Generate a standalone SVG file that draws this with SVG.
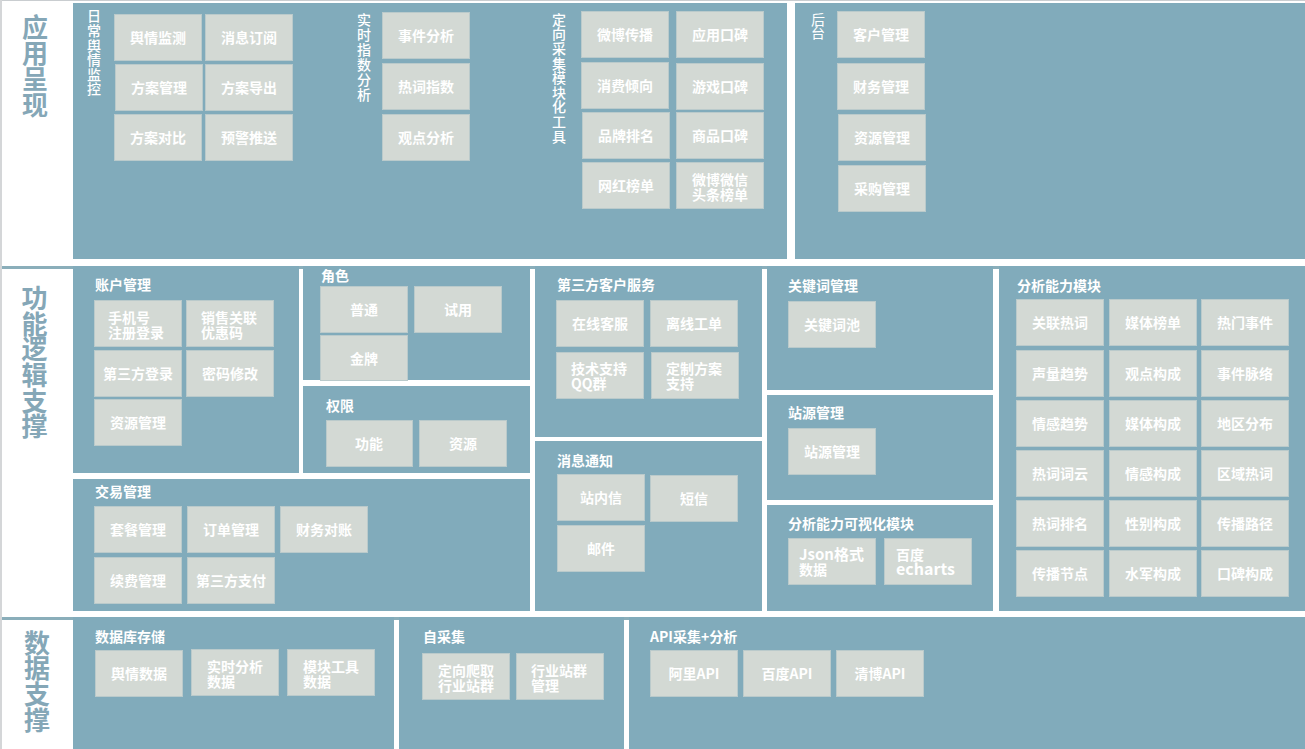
<svg xmlns="http://www.w3.org/2000/svg" width="1305" height="749" viewBox="0 0 1305 749">
<style>
.bg{fill:#ffffff}
.panel{fill:#81abbb}
.sep{fill:#8aaeba}
.box rect{fill:#d3d9d4;stroke:#bacacb;stroke-width:1}
text{font-family:"Noto Sans CJK SC","Noto Sans",sans-serif}
.bt{font-size:14px;fill:#ffffff;text-anchor:middle;font-weight:700}
.bl{font-size:14px;fill:#ffffff;text-anchor:start;font-weight:700}
.pt{font-size:14px;fill:#ffffff;font-weight:700}
.vt{font-size:14px;fill:#ffffff;writing-mode:vertical-rl;text-orientation:upright;font-weight:500}
.side{font-size:26px;fill:#85a7b7;writing-mode:vertical-rl;text-orientation:upright;font-weight:700}
</style>
<rect class="bg" x="0" y="0" width="1305" height="749"/>
<rect x="0" y="0" width="1305" height="1" fill="#c9cdd0"/>
<rect x="0" y="0" width="2" height="749" fill="#d4d6d8"/>

<!-- Row 1: 应用呈现 -->
<g id="layer-app">
<text class="side" x="35" y="14">应用呈现</text>
<rect class="panel" x="73" y="3" width="714" height="256"/>
<rect class="panel" x="795" y="3" width="510" height="256"/>
</g>

<g id="daily-monitor">
<text class="vt" x="94" y="9" style="letter-spacing:0.6px">日常舆情监控</text>
<g class="box" id="n-yqjc"><rect x="114.5" y="14.5" width="87" height="46"/><text class="bt" x="158" y="43">舆情监测</text></g>
<g class="box" id="n-xxdy"><rect x="205.5" y="14.5" width="87" height="46"/><text class="bt" x="249" y="43">消息订阅</text></g>
<g class="box" id="n-fagl"><rect x="115.5" y="64.5" width="87" height="46"/><text class="bt" x="159" y="93">方案管理</text></g>
<g class="box" id="n-fadc"><rect x="205.5" y="64.5" width="87" height="46"/><text class="bt" x="249" y="93">方案导出</text></g>
<g class="box" id="n-fadb"><rect x="114.5" y="114.5" width="87" height="46"/><text class="bt" x="158" y="143">方案对比</text></g>
<g class="box" id="n-yjts"><rect x="205.5" y="114.5" width="87" height="46"/><text class="bt" x="249" y="143">预警推送</text></g>
</g>

<g id="realtime-index">
<text class="vt" x="364" y="12.5" style="letter-spacing:1px">实时指数分析</text>
<g class="box" id="n-sjfx"><rect x="382.5" y="12.5" width="87" height="46"/><text class="bt" x="426" y="41">事件分析</text></g>
<g class="box" id="n-rczs"><rect x="382.5" y="63.5" width="87" height="46"/><text class="bt" x="426" y="92">热词指数</text></g>
<g class="box" id="n-gdfx"><rect x="382.5" y="114.5" width="87" height="46"/><text class="bt" x="426" y="143">观点分析</text></g>
</g>

<g id="directed-collect">
<text class="vt" x="559" y="12.5" style="letter-spacing:0.6px">定向采集模块化工具</text>
<g class="box" id="n-wbcb"><rect x="581.5" y="11.5" width="87" height="46"/><text class="bt" x="625" y="40">微博传播</text></g>
<g class="box" id="n-yykb"><rect x="676.5" y="11.5" width="87" height="46"/><text class="bt" x="720" y="40">应用口碑</text></g>
<g class="box" id="n-xfqx"><rect x="581.5" y="62.5" width="87" height="46"/><text class="bt" x="625" y="91">消费倾向</text></g>
<g class="box" id="n-yxkb"><rect x="676.5" y="63.5" width="87" height="46"/><text class="bt" x="720" y="92">游戏口碑</text></g>
<g class="box" id="n-ppmc"><rect x="582.5" y="112.5" width="87" height="46"/><text class="bt" x="626" y="141">品牌排名</text></g>
<g class="box" id="n-spkb"><rect x="676.5" y="112.5" width="87" height="46"/><text class="bt" x="720" y="141">商品口碑</text></g>
<g class="box" id="n-whbd"><rect x="582.5" y="162.5" width="87" height="46"/><text class="bt" x="626" y="191">网红榜单</text></g>
<g class="box" id="n-wbwx"><rect x="676.5" y="162.5" width="87" height="46"/><text class="bt"><tspan x="720" y="185">微博微信</tspan><tspan x="720" y="200">头条榜单</tspan></text></g>
</g>

<g id="backend">
<text class="vt" x="818" y="12.5" style="letter-spacing:-0.5px;font-weight:400">后台</text>
<g class="box" id="n-khgl"><rect x="837.5" y="11.5" width="87" height="46"/><text class="bt" x="881" y="40">客户管理</text></g>
<g class="box" id="n-cwgl"><rect x="837.5" y="63.5" width="87" height="46"/><text class="bt" x="881" y="92">财务管理</text></g>
<g class="box" id="n-zygl1"><rect x="838.5" y="114.5" width="87" height="46"/><text class="bt" x="882" y="143">资源管理</text></g>
<g class="box" id="n-cggl"><rect x="838.5" y="165.5" width="87" height="46"/><text class="bt" x="882" y="194">采购管理</text></g>
</g>

<!-- Row 2: 功能逻辑支撑 -->
<rect class="sep" x="2" y="266" width="1303" height="3"/>
<g id="layer-func">
<text class="side" x="34.5" y="285" style="letter-spacing:-0.3px">功能逻辑支撑</text>
</g>

<g id="account">
<rect class="panel" x="73" y="266" width="226" height="207"/>
<text class="pt" x="95" y="290">账户管理</text>
<g class="box" id="n-sjh"><rect x="94.5" y="300.5" width="87" height="46"/><text class="bl"><tspan x="108" y="323">手机号</tspan><tspan x="108" y="338">注册登录</tspan></text></g>
<g class="box" id="n-xsgl"><rect x="186.5" y="300.5" width="87" height="46"/><text class="bl"><tspan x="201" y="323">销售关联</tspan><tspan x="201" y="338">优惠码</tspan></text></g>
<g class="box" id="n-dsfdl"><rect x="94.5" y="350.5" width="87" height="46"/><text class="bt" x="138" y="379">第三方登录</text></g>
<g class="box" id="n-mmxg"><rect x="186.5" y="350.5" width="87" height="46"/><text class="bt" x="230" y="379">密码修改</text></g>
<g class="box" id="n-zygl2"><rect x="94.5" y="399.5" width="87" height="46"/><text class="bt" x="138" y="428">资源管理</text></g>
</g>

<g id="role">
<rect class="panel" x="303" y="266" width="227" height="114"/>
<text class="pt" x="321" y="281">角色</text>
<g class="box" id="n-pt"><rect x="320.5" y="286.5" width="87" height="46"/><text class="bt" x="364" y="315">普通</text></g>
<g class="box" id="n-sy"><rect x="414.5" y="286.5" width="87" height="46"/><text class="bt" x="458" y="315">试用</text></g>
<g class="box" id="n-jp"><rect x="320.5" y="335.5" width="87" height="45"/><text class="bt" x="364" y="364">金牌</text></g>
</g>

<g id="permission">
<rect class="panel" x="303" y="386" width="227" height="87"/>
<text class="pt" x="326" y="411">权限</text>
<g class="box" id="n-gn"><rect x="326.5" y="420.5" width="86" height="46"/><text class="bt" x="369" y="449">功能</text></g>
<g class="box" id="n-zy"><rect x="419.5" y="420.5" width="87" height="46"/><text class="bt" x="463" y="449">资源</text></g>
</g>

<g id="trade">
<rect class="panel" x="73" y="479" width="457" height="132"/>
<text class="pt" x="95" y="497">交易管理</text>
<g class="box" id="n-tcgl"><rect x="94.5" y="506.5" width="87" height="46"/><text class="bt" x="138" y="535">套餐管理</text></g>
<g class="box" id="n-ddgl"><rect x="187.5" y="506.5" width="87" height="46"/><text class="bt" x="231" y="535">订单管理</text></g>
<g class="box" id="n-cwdz"><rect x="280.5" y="506.5" width="87" height="46"/><text class="bt" x="324" y="535">财务对账</text></g>
<g class="box" id="n-xfgl"><rect x="94.5" y="557.5" width="87" height="46"/><text class="bt" x="138" y="586">续费管理</text></g>
<g class="box" id="n-dsfzf"><rect x="187.5" y="557.5" width="87" height="46"/><text class="bt" x="231" y="586">第三方支付</text></g>
</g>

<g id="third-service">
<rect class="panel" x="535" y="266" width="227" height="171"/>
<text class="pt" x="557" y="290">第三方客户服务</text>
<g class="box" id="n-zxkf"><rect x="556.5" y="300.5" width="87" height="46"/><text class="bt" x="600" y="329">在线客服</text></g>
<g class="box" id="n-lxgd"><rect x="650.5" y="300.5" width="87" height="46"/><text class="bt" x="694" y="329">离线工单</text></g>
<g class="box" id="n-jszc"><rect x="556.5" y="352.5" width="87" height="46"/><text class="bl"><tspan x="571" y="374">技术支持</tspan><tspan x="571" y="389">QQ群</tspan></text></g>
<g class="box" id="n-dzfa"><rect x="651.5" y="352.5" width="87" height="46"/><text class="bl"><tspan x="666" y="374">定制方案</tspan><tspan x="666" y="389">支持</tspan></text></g>
</g>

<g id="message">
<rect class="panel" x="535" y="441" width="227" height="170"/>
<text class="pt" x="557" y="466">消息通知</text>
<g class="box" id="n-znx"><rect x="557.5" y="474.5" width="87" height="46"/><text class="bt" x="601" y="503">站内信</text></g>
<g class="box" id="n-dx"><rect x="650.5" y="475.5" width="87" height="46"/><text class="bt" x="694" y="504">短信</text></g>
<g class="box" id="n-yj"><rect x="557.5" y="525.5" width="87" height="46"/><text class="bt" x="601" y="554">邮件</text></g>
</g>

<g id="keyword">
<rect class="panel" x="767" y="266" width="226" height="124"/>
<text class="pt" x="788" y="291">关键词管理</text>
<g class="box" id="n-gjcc"><rect x="788.5" y="301.5" width="87" height="46"/><text class="bt" x="832" y="330">关键词池</text></g>
</g>

<g id="site-source">
<rect class="panel" x="767" y="395" width="226" height="105"/>
<text class="pt" x="788" y="418">站源管理</text>
<g class="box" id="n-zygl3"><rect x="788.5" y="428.5" width="87" height="46"/><text class="bt" x="832" y="457">站源管理</text></g>
</g>

<g id="visual">
<rect class="panel" x="767" y="505" width="226" height="106"/>
<text class="pt" x="788" y="529">分析能力可视化模块</text>
<g class="box" id="n-json"><rect x="788.5" y="538.5" width="87" height="46"/><text class="bl"><tspan x="799" y="560" style="font-size:15px">Json格式</tspan><tspan x="799" y="575">数据</tspan></text></g>
<g class="box" id="n-echarts"><rect x="884.5" y="538.5" width="87" height="46"/><text class="bl"><tspan x="896" y="560">百度</tspan><tspan x="896" y="575" style="font-size:16px">echarts</tspan></text></g>
</g>

<g id="analysis">
<rect class="panel" x="999" y="266" width="306" height="345"/>
<text class="pt" x="1017" y="291">分析能力模块</text>
<g class="box" id="n-a11"><rect x="1016.5" y="299.5" width="87" height="46"/><text class="bt" x="1060" y="328">关联热词</text></g>
<g class="box" id="n-a12"><rect x="1109.5" y="299.5" width="87" height="46"/><text class="bt" x="1153" y="328">媒体榜单</text></g>
<g class="box" id="n-a13"><rect x="1201.5" y="299.5" width="87" height="46"/><text class="bt" x="1245" y="328">热门事件</text></g>
<g class="box" id="n-a21"><rect x="1016.5" y="350.5" width="87" height="46"/><text class="bt" x="1060" y="379">声量趋势</text></g>
<g class="box" id="n-a22"><rect x="1109.5" y="350.5" width="87" height="46"/><text class="bt" x="1153" y="379">观点构成</text></g>
<g class="box" id="n-a23"><rect x="1201.5" y="350.5" width="87" height="46"/><text class="bt" x="1245" y="379">事件脉络</text></g>
<g class="box" id="n-a31"><rect x="1016.5" y="400.5" width="87" height="46"/><text class="bt" x="1060" y="429">情感趋势</text></g>
<g class="box" id="n-a32"><rect x="1109.5" y="400.5" width="87" height="46"/><text class="bt" x="1153" y="429">媒体构成</text></g>
<g class="box" id="n-a33"><rect x="1201.5" y="400.5" width="87" height="46"/><text class="bt" x="1245" y="429">地区分布</text></g>
<g class="box" id="n-a41"><rect x="1016.5" y="450.5" width="87" height="46"/><text class="bt" x="1060" y="479">热词词云</text></g>
<g class="box" id="n-a42"><rect x="1109.5" y="450.5" width="87" height="46"/><text class="bt" x="1153" y="479">情感构成</text></g>
<g class="box" id="n-a43"><rect x="1201.5" y="450.5" width="87" height="46"/><text class="bt" x="1245" y="479">区域热词</text></g>
<g class="box" id="n-a51"><rect x="1016.5" y="500.5" width="87" height="46"/><text class="bt" x="1060" y="529">热词排名</text></g>
<g class="box" id="n-a52"><rect x="1109.5" y="500.5" width="87" height="46"/><text class="bt" x="1153" y="529">性别构成</text></g>
<g class="box" id="n-a53"><rect x="1201.5" y="500.5" width="87" height="46"/><text class="bt" x="1245" y="529">传播路径</text></g>
<g class="box" id="n-a61"><rect x="1016.5" y="550.5" width="87" height="46"/><text class="bt" x="1060" y="579">传播节点</text></g>
<g class="box" id="n-a62"><rect x="1109.5" y="550.5" width="87" height="46"/><text class="bt" x="1153" y="579">水军构成</text></g>
<g class="box" id="n-a63"><rect x="1201.5" y="550.5" width="87" height="46"/><text class="bt" x="1245" y="579">口碑构成</text></g>
</g>

<!-- Row 3: 数据支撑 -->
<rect class="sep" x="2" y="617" width="1303" height="3"/>
<g id="layer-data">
<text class="side" x="37" y="630" style="letter-spacing:-0.4px">数据支撑</text>
</g>

<g id="db-storage">
<rect class="panel" x="73" y="617" width="321" height="132"/>
<text class="pt" x="95" y="642">数据库存储</text>
<g class="box" id="n-yqsj"><rect x="95.5" y="650.5" width="87" height="46"/><text class="bt" x="139" y="679">舆情数据</text></g>
<g class="box" id="n-ssfx"><rect x="191.5" y="649.5" width="87" height="46"/><text class="bl"><tspan x="207" y="672">实时分析</tspan><tspan x="207" y="687">数据</tspan></text></g>
<g class="box" id="n-mkgj"><rect x="287.5" y="649.5" width="87" height="46"/><text class="bl"><tspan x="303" y="672">模块工具</tspan><tspan x="303" y="687">数据</tspan></text></g>
</g>

<g id="self-collect">
<rect class="panel" x="399" y="617" width="225" height="132"/>
<text class="pt" x="423" y="642">自采集</text>
<g class="box" id="n-dxpq"><rect x="422.5" y="653.5" width="87" height="46"/><text class="bt"><tspan x="466" y="676">定向爬取</tspan><tspan x="466" y="691">行业站群</tspan></text></g>
<g class="box" id="n-hyzq"><rect x="516.5" y="653.5" width="87" height="46"/><text class="bl"><tspan x="531" y="676">行业站群</tspan><tspan x="531" y="691">管理</tspan></text></g>
</g>

<g id="api-collect">
<rect class="panel" x="629" y="617" width="676" height="132"/>
<text class="pt" x="650" y="642">API采集+分析</text>
<g class="box" id="n-ali"><rect x="650.5" y="650.5" width="87" height="46"/><text class="bt" x="694" y="679">阿里API</text></g>
<g class="box" id="n-baidu"><rect x="743.5" y="650.5" width="87" height="46"/><text class="bt" x="787" y="679">百度API</text></g>
<g class="box" id="n-qingbo"><rect x="836.5" y="650.5" width="87" height="46"/><text class="bt" x="880" y="679">清博API</text></g>
</g>

<g id="connectors"></g>
</svg>
